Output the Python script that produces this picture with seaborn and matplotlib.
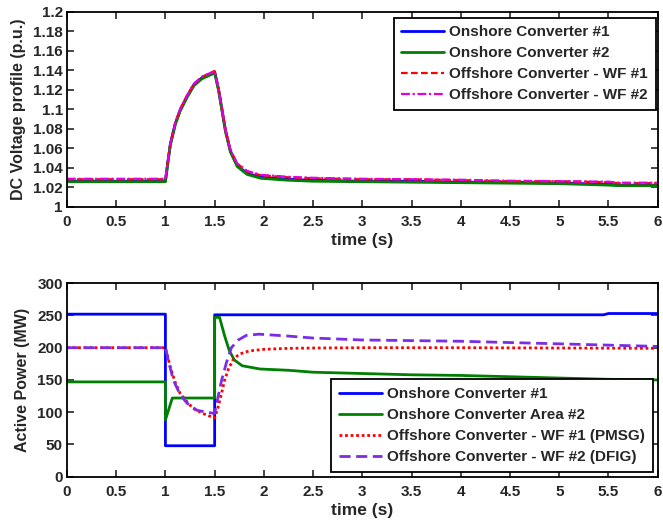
import numpy as np
import pandas as pd
import seaborn as sns
import matplotlib
matplotlib.use("Agg")
import matplotlib.pyplot as plt
from matplotlib.ticker import FuncFormatter

# DC voltage (p.u.)
t_v = [0, 1.0, 1.025, 1.05, 1.1, 1.15, 1.22, 1.29, 1.37, 1.5, 1.54, 1.575, 1.61, 1.66, 1.73,
       1.83, 1.97, 2.25, 2.5, 3.0, 3.5, 4.0, 4.5, 5.0, 5.5, 5.6, 6.0]
on1_v = [1.026, 1.026, 1.046, 1.064, 1.085, 1.099, 1.113, 1.125, 1.132, 1.138, 1.120, 1.099, 1.078,
         1.057, 1.042, 1.034, 1.030, 1.028, 1.027, 1.026, 1.026, 1.025, 1.025, 1.024, 1.023, 1.022, 1.022]
on2_v = [1.0255, 1.0255, 1.045, 1.063, 1.084, 1.098, 1.112, 1.124, 1.131, 1.137, 1.119, 1.098, 1.077,
         1.056, 1.041, 1.033, 1.029, 1.027, 1.026, 1.0255, 1.025, 1.0245, 1.024, 1.0235, 1.022, 1.0215, 1.0215]
off1_v = [1.028, 1.028, 1.047, 1.065, 1.086, 1.100, 1.114, 1.126, 1.133, 1.139, 1.121, 1.100, 1.079,
          1.058, 1.044, 1.036, 1.032, 1.030, 1.029, 1.028, 1.028, 1.027, 1.026, 1.026, 1.025, 1.024, 1.024]
off2_v = [1.0285, 1.0285, 1.047, 1.065, 1.086, 1.100, 1.114, 1.126, 1.133, 1.139, 1.121, 1.100, 1.079,
          1.058, 1.044, 1.0365, 1.0325, 1.0305, 1.0295, 1.0285, 1.028, 1.0275, 1.0265, 1.026, 1.0255, 1.0245, 1.0245]

# active power (MW)
t_p1 = [0, 1.0, 1.0, 1.5, 1.5, 5.45, 5.5, 6.0]
p1 = [252, 252, 48, 48, 251, 251, 253, 253]
t_p2 = [0, 1.0, 1.0, 1.07, 1.5, 1.5, 1.55, 1.6, 1.65, 1.7, 1.78, 1.96, 2.25, 2.5, 3.0, 3.5,
        4.0, 4.5, 5.0, 5.5, 6.0]
p2 = [147, 147, 88, 122, 122, 247, 247, 219, 195, 181, 172, 167, 165, 162, 160, 158, 157, 155,
      153, 151, 150]
t_p3 = [0, 1.0, 1.05, 1.1, 1.15, 1.22, 1.28, 1.38, 1.5, 1.535, 1.57, 1.6, 1.64, 1.69, 1.75,
        1.85, 2.0, 2.25, 2.5, 3.0, 4.0, 5.0, 6.0]
p3 = [200, 200, 170, 146, 129, 116, 106, 98, 91, 108, 129, 149, 167, 182, 190, 195, 197.5,
      199, 199.5, 200, 200, 199.5, 199]
t_p4 = [0, 1.0, 1.03, 1.08, 1.15, 1.22, 1.32, 1.42, 1.5, 1.535, 1.57, 1.62, 1.67, 1.74, 1.82,
        1.95, 2.25, 2.5, 3.0, 3.5, 4.0, 4.5, 5.0, 5.5, 6.0]
p4 = [200, 200, 180, 150, 127, 114, 103, 100, 98, 124, 149, 177, 200, 212, 219, 221, 218, 215,
      212, 211, 210, 208, 206, 204, 202]

labels_v = ["Onshore Converter #1", "Onshore Converter #2",
            "Offshore Converter - WF #1", "Offshore Converter - WF #2"]
labels_p = ["Onshore Converter #1", "Onshore Converter Area #2",
            "Offshore Converter - WF #1 (PMSG)", "Offshore Converter - WF #2 (DFIG)"]

sns.set_style("ticks")
plt.rcParams["font.family"] = ["Liberation Sans", "DejaVu Sans"]
plt.rcParams["font.weight"] = "bold"
plt.rcParams["axes.labelweight"] = "bold"

fig = plt.figure(figsize=(6.63, 5.23), dpi=100)
ax1 = fig.add_axes([0.101, 0.605, 0.891, 0.373])
ax2 = fig.add_axes([0.101, 0.0885, 0.891, 0.370])

def line(ax, x, y, label, **kw):
    sns.lineplot(x=x, y=y, ax=ax, label=label, estimator=None, sort=False, **kw)

line(ax1, t_v, on1_v, labels_v[0], color="#0000ff", linewidth=2)
line(ax1, t_v, on2_v, labels_v[1], color="#008000", linewidth=2)
line(ax1, t_v, off1_v, labels_v[2], color="#ff0000", linewidth=1.6, linestyle=(0, (3, 1.5)))
line(ax1, t_v, off2_v, labels_v[3], color="#e000e0", linewidth=1.6, linestyle=(0, (4, 1.2, 1, 1.2)))

line(ax2, t_p1, p1, labels_p[0], color="#0000ff", linewidth=2)
line(ax2, t_p2, p2, labels_p[1], color="#008000", linewidth=2)
line(ax2, t_p3, p3, labels_p[2], color="#ff0000", linewidth=2, linestyle=(0, (1, 1)))
line(ax2, t_p4, p4, labels_p[3], color="#7b2ce6", linewidth=2, linestyle=(0, (4, 2)))

fmt = FuncFormatter(lambda v, p: "%g" % round(v, 4))
for ax in (ax1, ax2):
    ax.set_xlim(0, 6)
    ax.set_xticks(np.arange(0, 6.01, 0.5))
    ax.xaxis.set_major_formatter(fmt)
    ax.set_xlabel("time (s)", fontsize=12.5, labelpad=3)
    ax.tick_params(direction="in", top=True, right=True, length=5, width=1.2,
                   labelsize=11)
    ax.tick_params(axis="x", pad=6)
    ax.tick_params(axis="y", pad=3)
    for s in ax.spines.values():
        s.set_linewidth(1.3)
        s.set_color("black")
    for lab in ax.get_xticklabels() + ax.get_yticklabels():
        lab.set_fontweight("bold")

ax1.set_ylim(1, 1.2)
ax1.set_yticks(np.arange(1, 1.2001, 0.02))
ax1.yaxis.set_major_formatter(fmt)
ax1.set_ylabel("DC Voltage profile (p.u.)", fontsize=11.5, labelpad=5)

ax2.set_ylim(0, 300)
ax2.set_yticks(np.arange(0, 301, 50))
ax2.yaxis.set_major_formatter(fmt)
ax2.set_ylabel("Active Power (MW)", fontsize=11.5, labelpad=5)

leg_kw = dict(frameon=True, fancybox=False, edgecolor="black", framealpha=1,
              prop={"weight": "bold", "size": 11}, handlelength=2.8,
              handletextpad=0.35, labelspacing=0.46, borderpad=0.5, borderaxespad=0)
leg1 = ax1.legend(loc="upper right", bbox_to_anchor=(0.9966, 0.968), **leg_kw)
leg2 = ax2.legend(loc="lower right", bbox_to_anchor=(0.9915, 0.026), **leg_kw)
for leg in (leg1, leg2):
    leg.get_frame().set_linewidth(1.3)

fig.savefig("out.png", dpi=100)
